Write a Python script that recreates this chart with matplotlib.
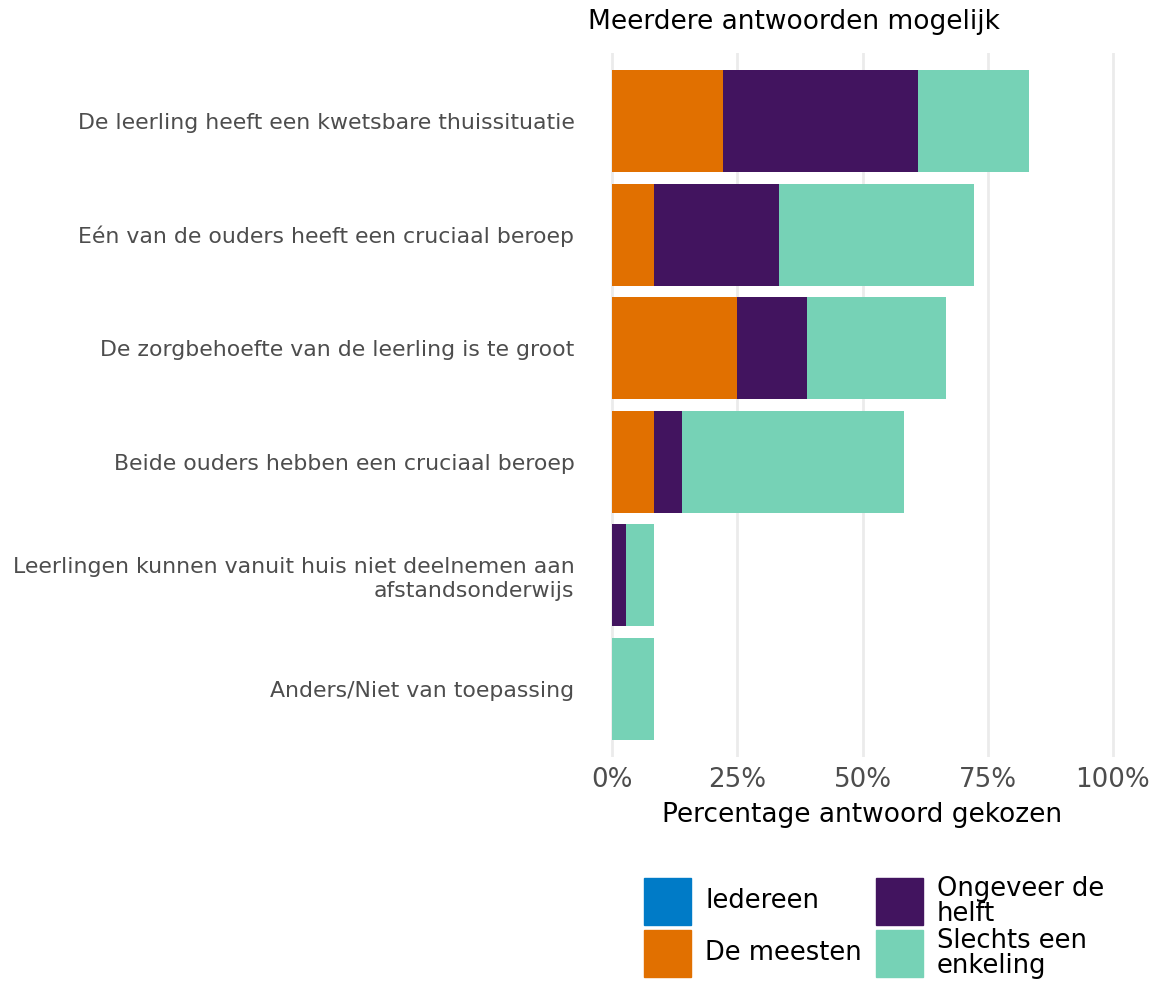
import numpy as np
from matplotlib import pyplot as plt
from matplotlib.patches import Rectangle

# answers given by 36 schools, expressed as percentage
categories = ["De leerling heeft een kwetsbare thuissituatie",
              "Eén van de ouders heeft een cruciaal beroep",
              "De zorgbehoefte van de leerling is te groot",
              "Beide ouders hebben een cruciaal beroep",
              "Leerlingen kunnen vanuit huis niet deelnemen aan\nafstandsonderwijs",
              "Anders/Niet van toepassing"]
series = ["Iedereen", "De meesten", "Ongeveer de\nhelft", "Slechts een\nenkeling"]
iedereen = [0, 0, 0, 0, 0, 0]
de_meesten = [22.2, 8.3, 25.0, 8.3, 0, 0]
ongeveer_helft = [38.9, 25.0, 13.9, 5.6, 2.8, 0]
slechts_enkeling = [22.2, 38.9, 27.8, 44.4, 5.6, 8.3]
colors = ["#007BC7", "#E17000", "#42145F", "#76D2B6"]
xticks = [0, 25, 50, 75, 100]
xticklabels = ["0%", "25%", "50%", "75%", "100%"]

values = [iedereen, de_meesten, ongeveer_helft, slechts_enkeling]

fig = plt.figure(figsize=(11.63, 9.84), dpi=100)
ax = fig.add_axes([587 / 1163, 1 - 757 / 984, 551 / 1163, 704 / 984])

y = np.arange(len(categories))
left = np.zeros(len(categories))
for vals, col in zip(values, colors):
    ax.barh(y, vals, left=left, height=0.9, color=col, zorder=2)
    left += np.array(vals)

ax.set_xlim(-5, 105)
ax.set_ylim(len(categories) - 0.4, -0.6)
ax.set_xticks(xticks)
ax.set_xticklabels(xticklabels, fontsize=18.8, color="#4d4d4d")
ax.set_yticks(y)
ax.set_yticklabels(categories, fontsize=15.8, color="#4d4d4d", linespacing=1.25)
ax.tick_params(axis="both", length=0)
ax.tick_params(axis="y", pad=9)
ax.tick_params(axis="x", pad=7)
for s in ax.spines.values():
    s.set_visible(False)
ax.xaxis.grid(True, color="#EBEBEB", lw=2, zorder=0)
ax.set_axisbelow(True)
ax.set_xlabel("Percentage antwoord gekozen", fontsize=19, color="black", labelpad=7)
fig.text(588 / 1163, 1 - 22 / 984, "Meerdere antwoorden mogelijk", fontsize=19,
         va="center", ha="left")

# legend drawn by hand, two columns
W, H = 1163, 984
key = 47
pos = [(644, 878), (644, 930), (876, 878), (876, 930)]
for (px, py), lab, col in zip(pos, series, colors):
    fig.patches.append(Rectangle((px / W, 1 - (py + key) / H), key / W, key / H,
                                 color=col, transform=fig.transFigure))
    fig.text((px + key + 14) / W, 1 - (py + key / 2) / H, lab, fontsize=18.5,
             va="center", ha="left", linespacing=0.98)

fig.savefig("out.png", dpi=100)
